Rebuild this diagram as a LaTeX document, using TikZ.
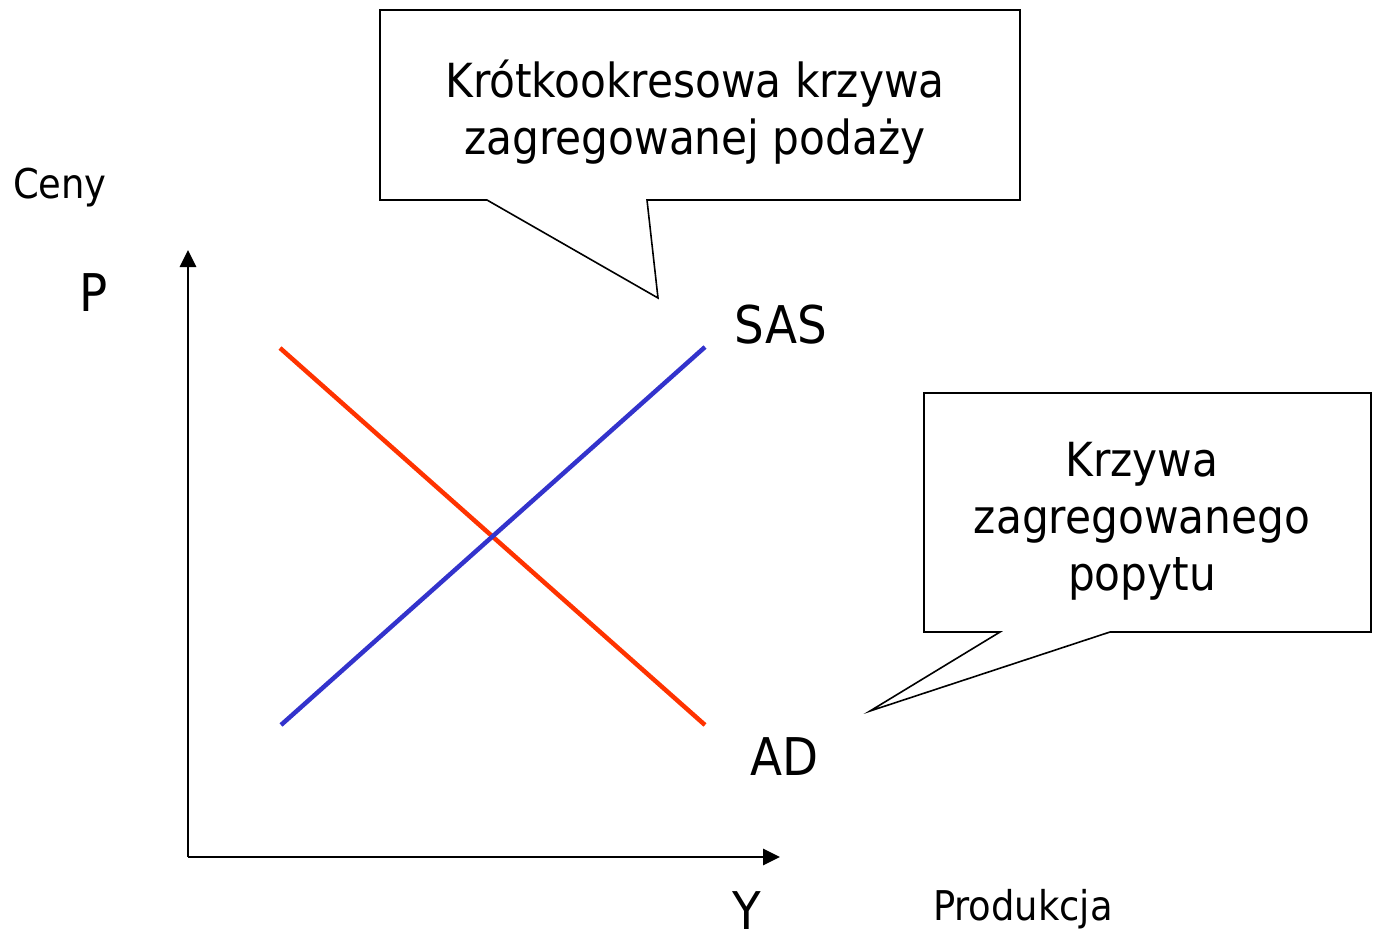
\documentclass[tikz,border=0pt]{standalone}
\usepackage{fontspec}
\setmainfont{DejaVu Sans Condensed}
\usepackage{tikz}
\usetikzlibrary{arrows.meta,calc}

\definecolor{adred}{RGB}{255,51,0}
\definecolor{sasblue}{RGB}{51,51,204}

\begin{document}
\begin{tikzpicture}[x=1pt,y=-1pt]
	\tikzstyle{lbl}=[inner sep=0pt, anchor=base, font=\fontsize{52}{60}\selectfont];
	\tikzstyle{axlbl}=[inner sep=0pt, anchor=base, font=\fontsize{41}{50}\selectfont];
	\tikzstyle{boxtxt}=[inner sep=0pt, anchor=base, align=center, font=\fontsize{47}{57}\selectfont];
	\tikzstyle{callout}=[draw, line width=1.6pt, line join=miter];
	\tikzstyle{axis}=[line width=2.8pt, -{Triangle[length=17pt,width=16pt]}];
	\tikzstyle{curve}=[line width=4.5pt];

	\useasboundingbox (0,0) rectangle (1377,938);

	% axes
	\coordinate (O) at (188,857);
	\coordinate (ptop) at (188,250);
	\coordinate (yend) at (780,857);
	\draw[axis] (O) -- (ptop);
	\draw[axis] (O) -- (yend);

	\node[axlbl] (ceny) at (60,198) {Ceny};
	\node[lbl] (p) at (94,311) {P};
	\node[lbl] (y) at (747,929) {Y};
	\node[axlbl] (prod) at (1023,920) {Produkcja};

	% curves
	\coordinate (ad1) at (280,348);
	\coordinate (ad2) at (705,725);
	\coordinate (sas1) at (281,725);
	\coordinate (sas2) at (705,347);
	\draw[curve, adred] (ad1) -- (ad2);
	\draw[curve, sasblue] (sas1) -- (sas2);

	\node[lbl] (sas) at (781,343) {SAS};
	\node[lbl] (ad) at (785,775) {AD};

	% callout for SAS
	\node[boxtxt] (sastxt) at (695,154) {Krótkookresowa krzywa\\zagregowanej podaży};
	\coordinate (sastip) at (658,298);
	\draw[callout] (380,10) -- (1020,10) -- (1020,200) -- (647,200) -- (sastip)
		-- (487,200) -- (380,200) -- cycle;

	% callout for AD
	\node[boxtxt] (adtxt) at (1142,590) {Krzywa\\zagregowanego\\popytu};
	\coordinate (adtip) at (870,711);
	\draw[callout] (924,393) -- (1371,393) -- (1371,632) -- (1110,632) -- (adtip)
		-- (1000,632) -- (924,632) -- cycle;
\end{tikzpicture}
\end{document}
